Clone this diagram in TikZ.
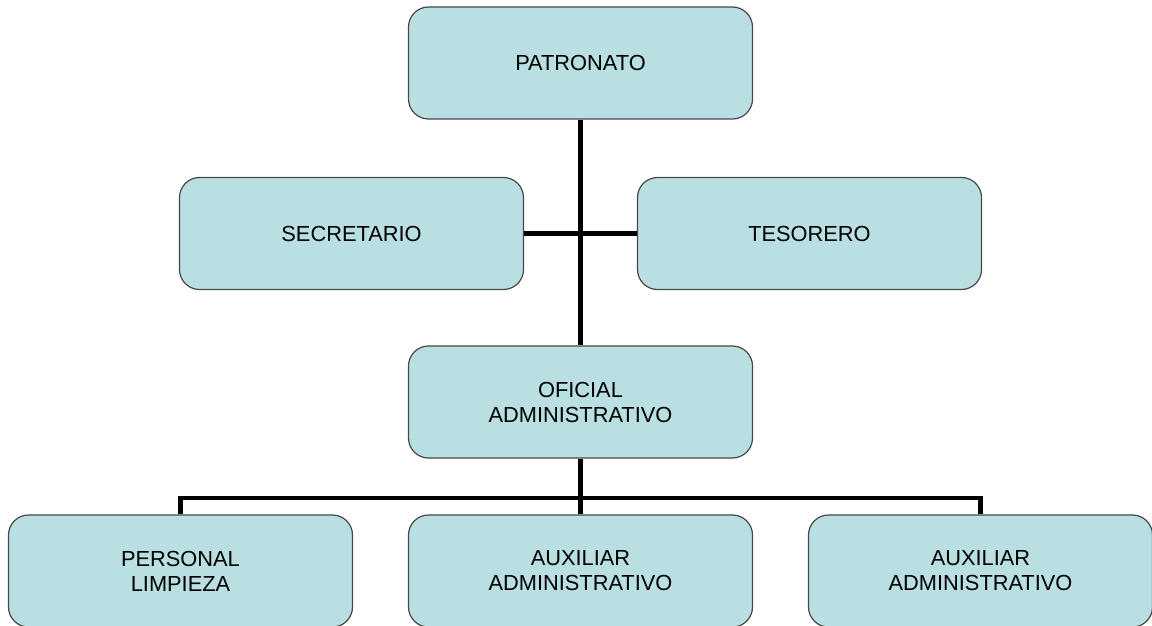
\documentclass[tikz,border=0pt]{standalone}
\usepackage{fontspec}
\setmainfont{Liberation Sans}
\usepackage{tikz}
\usetikzlibrary{shapes, positioning}
\definecolor{boxfill}{RGB}{185,223,227}
\tikzstyle{block}=[draw=black!72,line width=0.6pt,fill=boxfill,rectangle,rounded corners=10pt,minimum width=172pt,minimum height=56pt,align=center]
\tikzstyle{every node}=[font=\fontsize{10.9}{12.5}\selectfont]
\tikzstyle{link}=[line width=2.25pt]

\begin{document}
\begin{tikzpicture}
    \useasboundingbox (0,0) rectangle (576pt,-313pt);
    \node[block] (pat) at (290.25pt,-31.5pt) {PATRONATO};
    \node[block, below of=pat, node distance=85.25pt, xshift=-114.5pt] (sec) {SECRETARIO};
    \node[block, below of=pat, node distance=85.25pt, xshift=114.5pt] (tes) {TESORERO};
    \node[block, below of=pat, node distance=169.5pt] (ofi) {OFICIAL\\ADMINISTRATIVO};
    \node[block, below of=ofi, node distance=84.5pt, xshift=-200pt] (per) {PERSONAL\\LIMPIEZA};
    \node[block, below of=ofi, node distance=84.5pt] (aux1) {AUXILIAR\\ADMINISTRATIVO};
    \node[block, below of=ofi, node distance=84.5pt, xshift=200pt] (aux2) {AUXILIAR\\ADMINISTRATIVO};
    \coordinate[below of=ofi, node distance=48pt] (bus);
    \draw[link] (pat) -- (ofi);
    \draw[link] (sec) -- (tes);
    \draw[link] (ofi) -- (aux1);
    \draw[link] (per.north) |- (bus) -| (aux2.north);
\end{tikzpicture}
\end{document}
